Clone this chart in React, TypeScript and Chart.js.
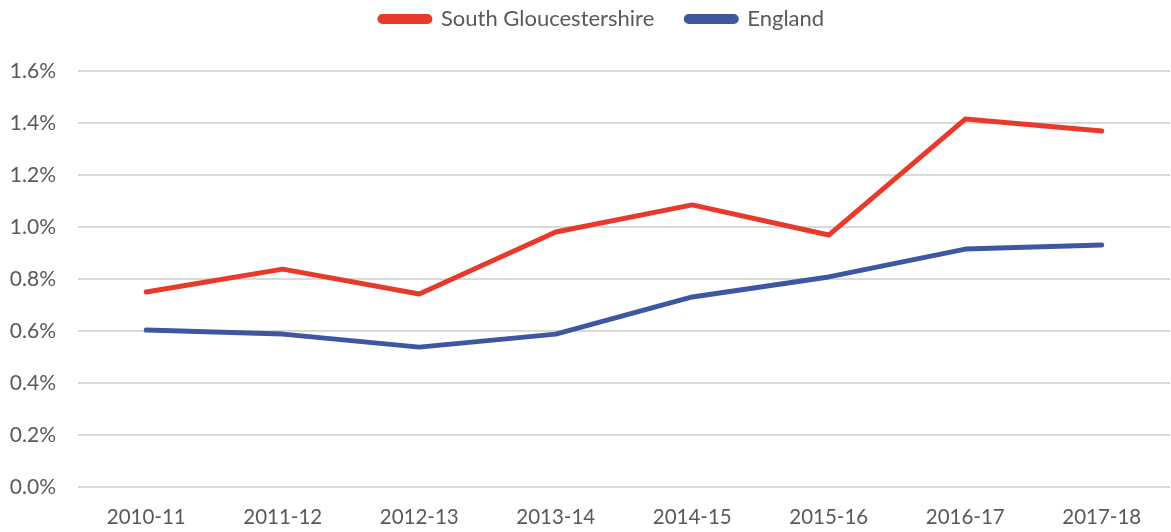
import React, { useEffect, useRef } from "react";
import { Chart, registerables } from "chart.js";

Chart.register(...registerables);

const categories = ["2010-11", "2011-12", "2012-13", "2013-14", "2014-15", "2015-16", "2016-17", "2017-18"];
const southGlos = [0.75, 0.838, 0.742, 0.981, 1.085, 0.969, 1.415, 1.369];
const england = [0.604, 0.588, 0.538, 0.588, 0.731, 0.808, 0.915, 0.931];
const yTicks = [0, 0.2, 0.4, 0.6, 0.8, 1.0, 1.2, 1.4, 1.6];

const FONT = "Lato, 'Open Sans', sans-serif";

const legendHeightPlugin = {
  id: "legendHeight",
  afterInit(chart: any) {
    const lg = chart.legend;
    if (!lg) return;
    const orig = lg.fit;
    lg.fit = function () {
      orig.call(this);
      this.height = 95;
    };
    const origDraw = lg.draw;
    lg.draw = function (...args: any[]) {
      const ctx = this.ctx;
      ctx.save();
      ctx.translate(17, 0);
      origDraw.apply(this, args);
      ctx.restore();
    };
  },
};

export default function App() {
  const ref = useRef<HTMLCanvasElement>(null);
  useEffect(() => {
    if (!ref.current) return;
    const chart = new Chart(ref.current, {
      type: "line",
      data: {
        labels: categories,
        datasets: [
          {
            label: "South Gloucestershire",
            data: southGlos,
            borderColor: "#E8392A",
            backgroundColor: "#E8392A",
            borderWidth: 5,
            pointRadius: 0,
            tension: 0,
            borderCapStyle: "round",
            borderJoinStyle: "round",
          },
          {
            label: "England",
            data: england,
            borderColor: "#3F56A3",
            backgroundColor: "#3F56A3",
            borderWidth: 5,
            pointRadius: 0,
            tension: 0,
            borderCapStyle: "round",
            borderJoinStyle: "round",
          },
        ],
      },
      options: {
        animation: false,
        responsive: false,
        maintainAspectRatio: false,
        layout: { padding: { top: -24, right: 1, left: 0, bottom: 0 } },
        plugins: {
          tooltip: { enabled: false },
          legend: {
            position: "top",
            labels: {
              boxWidth: 50,
              boxHeight: 5,
              useBorderRadius: true,
              borderRadius: 2.5,
              color: "#595959",
              font: { family: FONT, size: 22 },
              padding: 32,
            },
          },
        },
        scales: {
          x: {
            offset: true,
            grid: { display: false },
            border: { display: false },
            ticks: { color: "#595959", font: { family: FONT, size: 20.5 }, maxRotation: 0, padding: 10 },
            afterFit: (s: any) => { s.height = 45; },
          },
          y: {
            min: 0,
            max: 1.6,
            afterBuildTicks: (s: any) => { s.ticks = yTicks.map((v) => ({ value: v })); },
            grid: { color: "#D9D9D9", lineWidth: 2, drawTicks: false },
            border: { display: false },
            ticks: {
              color: "#595959",
              font: { family: FONT, size: 21 },
              padding: 22,
              callback: (v: any) => Number(v).toFixed(1) + "%",
            },
            afterFit: (s: any) => { s.width = 78; },
          },
        },
      },
      plugins: [legendHeightPlugin],
    });
    return () => chart.destroy();
  }, []);
  return (
    <div style={{ position: "fixed", left: 0, top: 0, width: 1171, height: 532, background: "#fff" }}>
      <canvas ref={ref} width={1171} height={532} />
    </div>
  );
}
